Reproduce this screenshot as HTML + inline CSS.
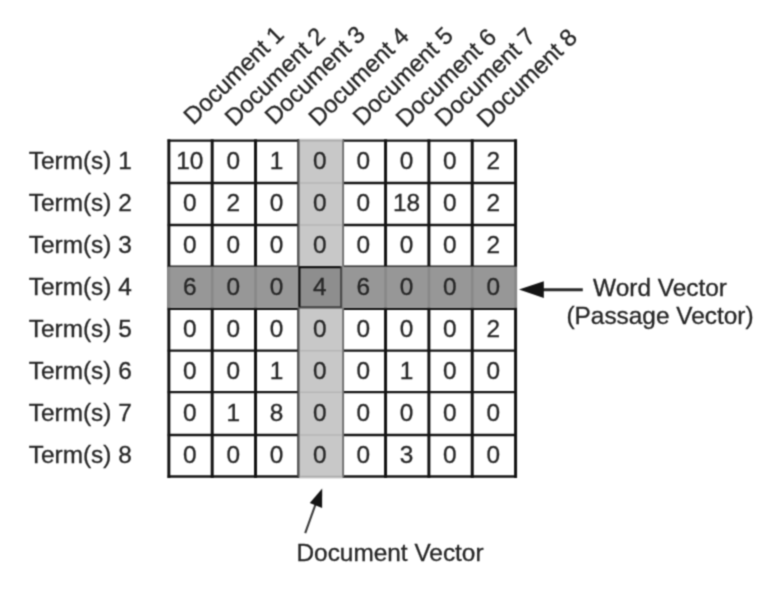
<!DOCTYPE html><html><head><meta charset="utf-8"><style>html,body{margin:0;padding:0;background:#fff}svg{display:block}text{font-family:"Liberation Sans",sans-serif;fill:#262626;stroke:#262626;stroke-width:0.32px}</style></head><body>
<svg width="778" height="590" viewBox="0 0 778 590">
<defs><filter id="b" color-interpolation-filters="sRGB" x="0" y="0" width="100%" height="100%" filterUnits="userSpaceOnUse"><feConvolveMatrix order="3" kernelMatrix="0.0400 0.1200 0.0400 0.1200 0.3600 0.1200 0.0400 0.1200 0.0400" edgeMode="duplicate" preserveAlpha="true"/></filter></defs><g filter="url(#b)">
<rect width="778" height="590" fill="#fff"/>
<line x1="168.85" y1="140.70" x2="515.57" y2="140.70" stroke="#141414" stroke-width="2.3" stroke-linecap="square"/>
<line x1="168.85" y1="183.00" x2="515.57" y2="183.00" stroke="#141414" stroke-width="2.3" stroke-linecap="square"/>
<line x1="168.85" y1="225.00" x2="515.57" y2="225.00" stroke="#141414" stroke-width="2.3" stroke-linecap="square"/>
<line x1="168.85" y1="266.55" x2="515.57" y2="266.55" stroke="#141414" stroke-width="2.3" stroke-linecap="square"/>
<line x1="168.85" y1="308.80" x2="515.57" y2="308.80" stroke="#141414" stroke-width="2.3" stroke-linecap="square"/>
<line x1="168.85" y1="350.70" x2="515.57" y2="350.70" stroke="#141414" stroke-width="2.3" stroke-linecap="square"/>
<line x1="168.85" y1="392.20" x2="515.57" y2="392.20" stroke="#141414" stroke-width="2.3" stroke-linecap="square"/>
<line x1="168.85" y1="435.00" x2="515.57" y2="435.00" stroke="#141414" stroke-width="2.3" stroke-linecap="square"/>
<line x1="168.85" y1="476.50" x2="515.57" y2="476.50" stroke="#141414" stroke-width="2.3" stroke-linecap="square"/>
<line x1="168.85" y1="140.70" x2="168.85" y2="476.50" stroke="#141414" stroke-width="3.0" stroke-linecap="square"/>
<line x1="212.19" y1="140.70" x2="212.19" y2="476.50" stroke="#141414" stroke-width="3.0" stroke-linecap="square"/>
<line x1="255.53" y1="140.70" x2="255.53" y2="476.50" stroke="#141414" stroke-width="3.0" stroke-linecap="square"/>
<line x1="298.87" y1="140.70" x2="298.87" y2="476.50" stroke="#141414" stroke-width="3.0" stroke-linecap="square"/>
<line x1="342.21" y1="140.70" x2="342.21" y2="476.50" stroke="#141414" stroke-width="3.0" stroke-linecap="square"/>
<line x1="385.55" y1="140.70" x2="385.55" y2="476.50" stroke="#141414" stroke-width="3.0" stroke-linecap="square"/>
<line x1="428.89" y1="140.70" x2="428.89" y2="476.50" stroke="#141414" stroke-width="3.0" stroke-linecap="square"/>
<line x1="472.23" y1="140.70" x2="472.23" y2="476.50" stroke="#141414" stroke-width="3.0" stroke-linecap="square"/>
<line x1="515.57" y1="140.70" x2="515.57" y2="476.50" stroke="#141414" stroke-width="3.0" stroke-linecap="square"/>
<rect x="299.17" y="138.80" width="43.64" height="339.60" fill="#c8c8c8"/>
<line x1="300.17" y1="140.70" x2="341.81" y2="140.70" stroke="#acacac" stroke-width="1.6" stroke-linecap="butt"/>
<line x1="300.17" y1="183.00" x2="341.81" y2="183.00" stroke="#b6b6b6" stroke-width="1.6" stroke-linecap="butt"/>
<line x1="300.17" y1="225.00" x2="341.81" y2="225.00" stroke="#b6b6b6" stroke-width="1.6" stroke-linecap="butt"/>
<line x1="300.17" y1="350.70" x2="341.81" y2="350.70" stroke="#b6b6b6" stroke-width="1.6" stroke-linecap="butt"/>
<line x1="300.17" y1="392.20" x2="341.81" y2="392.20" stroke="#b6b6b6" stroke-width="1.6" stroke-linecap="butt"/>
<line x1="300.17" y1="435.00" x2="341.81" y2="435.00" stroke="#b6b6b6" stroke-width="1.6" stroke-linecap="butt"/>
<line x1="300.17" y1="476.50" x2="341.81" y2="476.50" stroke="#acacac" stroke-width="1.6" stroke-linecap="butt"/>
<line x1="298.47" y1="139.70" x2="298.47" y2="477.50" stroke="#585858" stroke-width="1.9" stroke-linecap="butt"/>
<line x1="343.21" y1="139.70" x2="343.21" y2="477.50" stroke="#6c6c6c" stroke-width="1.7" stroke-linecap="butt"/>
<rect x="167.55" y="266.70" width="349.32" height="41.10" fill="#979797"/>
<line x1="168.85" y1="267.20" x2="168.85" y2="307.30" stroke="#888888" stroke-width="2.6" stroke-linecap="butt"/>
<line x1="212.19" y1="267.20" x2="212.19" y2="307.30" stroke="#888888" stroke-width="2.6" stroke-linecap="butt"/>
<line x1="255.53" y1="267.20" x2="255.53" y2="307.30" stroke="#888888" stroke-width="2.6" stroke-linecap="butt"/>
<line x1="385.55" y1="267.20" x2="385.55" y2="307.30" stroke="#888888" stroke-width="2.6" stroke-linecap="butt"/>
<line x1="428.89" y1="267.20" x2="428.89" y2="307.30" stroke="#888888" stroke-width="2.6" stroke-linecap="butt"/>
<line x1="472.23" y1="267.20" x2="472.23" y2="307.30" stroke="#888888" stroke-width="2.6" stroke-linecap="butt"/>
<line x1="515.57" y1="267.20" x2="515.57" y2="307.30" stroke="#888888" stroke-width="2.6" stroke-linecap="butt"/>
<rect x="298.47" y="266.25" width="43.74" height="42.25" fill="#4a4a4a"/>
<rect x="298.47" y="266.25" width="42.14" height="40.55" fill="#0c0c0c"/>
<rect x="300.47" y="268.25" width="39.94" height="38.25" fill="#8e8e8e"/>
<text x="189.8" y="168.6" font-size="24.4" text-anchor="middle">10</text>
<text x="233.2" y="168.6" font-size="24.4" text-anchor="middle">0</text>
<text x="276.5" y="168.6" font-size="24.4" text-anchor="middle">1</text>
<text x="319.8" y="168.6" font-size="24.4" text-anchor="middle">0</text>
<text x="363.2" y="168.6" font-size="24.4" text-anchor="middle">0</text>
<text x="406.5" y="168.6" font-size="24.4" text-anchor="middle">0</text>
<text x="449.9" y="168.6" font-size="24.4" text-anchor="middle">0</text>
<text x="493.2" y="168.6" font-size="24.4" text-anchor="middle">2</text>
<text x="189.8" y="210.6" font-size="24.4" text-anchor="middle">0</text>
<text x="233.2" y="210.6" font-size="24.4" text-anchor="middle">2</text>
<text x="276.5" y="210.6" font-size="24.4" text-anchor="middle">0</text>
<text x="319.8" y="210.6" font-size="24.4" text-anchor="middle">0</text>
<text x="363.2" y="210.6" font-size="24.4" text-anchor="middle">0</text>
<text x="406.5" y="210.6" font-size="24.4" text-anchor="middle">18</text>
<text x="449.9" y="210.6" font-size="24.4" text-anchor="middle">0</text>
<text x="493.2" y="210.6" font-size="24.4" text-anchor="middle">2</text>
<text x="189.8" y="252.6" font-size="24.4" text-anchor="middle">0</text>
<text x="233.2" y="252.6" font-size="24.4" text-anchor="middle">0</text>
<text x="276.5" y="252.6" font-size="24.4" text-anchor="middle">0</text>
<text x="319.8" y="252.6" font-size="24.4" text-anchor="middle">0</text>
<text x="363.2" y="252.6" font-size="24.4" text-anchor="middle">0</text>
<text x="406.5" y="252.6" font-size="24.4" text-anchor="middle">0</text>
<text x="449.9" y="252.6" font-size="24.4" text-anchor="middle">0</text>
<text x="493.2" y="252.6" font-size="24.4" text-anchor="middle">2</text>
<text x="189.8" y="294.6" font-size="24.4" text-anchor="middle">6</text>
<text x="233.2" y="294.6" font-size="24.4" text-anchor="middle">0</text>
<text x="276.5" y="294.6" font-size="24.4" text-anchor="middle">0</text>
<text x="319.8" y="294.6" font-size="24.4" text-anchor="middle">4</text>
<text x="363.2" y="294.6" font-size="24.4" text-anchor="middle">6</text>
<text x="406.5" y="294.6" font-size="24.4" text-anchor="middle">0</text>
<text x="449.9" y="294.6" font-size="24.4" text-anchor="middle">0</text>
<text x="493.2" y="294.6" font-size="24.4" text-anchor="middle">0</text>
<text x="189.8" y="336.6" font-size="24.4" text-anchor="middle">0</text>
<text x="233.2" y="336.6" font-size="24.4" text-anchor="middle">0</text>
<text x="276.5" y="336.6" font-size="24.4" text-anchor="middle">0</text>
<text x="319.8" y="336.6" font-size="24.4" text-anchor="middle">0</text>
<text x="363.2" y="336.6" font-size="24.4" text-anchor="middle">0</text>
<text x="406.5" y="336.6" font-size="24.4" text-anchor="middle">0</text>
<text x="449.9" y="336.6" font-size="24.4" text-anchor="middle">0</text>
<text x="493.2" y="336.6" font-size="24.4" text-anchor="middle">2</text>
<text x="189.8" y="378.6" font-size="24.4" text-anchor="middle">0</text>
<text x="233.2" y="378.6" font-size="24.4" text-anchor="middle">0</text>
<text x="276.5" y="378.6" font-size="24.4" text-anchor="middle">1</text>
<text x="319.8" y="378.6" font-size="24.4" text-anchor="middle">0</text>
<text x="363.2" y="378.6" font-size="24.4" text-anchor="middle">0</text>
<text x="406.5" y="378.6" font-size="24.4" text-anchor="middle">1</text>
<text x="449.9" y="378.6" font-size="24.4" text-anchor="middle">0</text>
<text x="493.2" y="378.6" font-size="24.4" text-anchor="middle">0</text>
<text x="189.8" y="420.6" font-size="24.4" text-anchor="middle">0</text>
<text x="233.2" y="420.6" font-size="24.4" text-anchor="middle">1</text>
<text x="276.5" y="420.6" font-size="24.4" text-anchor="middle">8</text>
<text x="319.8" y="420.6" font-size="24.4" text-anchor="middle">0</text>
<text x="363.2" y="420.6" font-size="24.4" text-anchor="middle">0</text>
<text x="406.5" y="420.6" font-size="24.4" text-anchor="middle">0</text>
<text x="449.9" y="420.6" font-size="24.4" text-anchor="middle">0</text>
<text x="493.2" y="420.6" font-size="24.4" text-anchor="middle">0</text>
<text x="189.8" y="462.6" font-size="24.4" text-anchor="middle">0</text>
<text x="233.2" y="462.6" font-size="24.4" text-anchor="middle">0</text>
<text x="276.5" y="462.6" font-size="24.4" text-anchor="middle">0</text>
<text x="319.8" y="462.6" font-size="24.4" text-anchor="middle">0</text>
<text x="363.2" y="462.6" font-size="24.4" text-anchor="middle">0</text>
<text x="406.5" y="462.6" font-size="24.4" text-anchor="middle">3</text>
<text x="449.9" y="462.6" font-size="24.4" text-anchor="middle">0</text>
<text x="493.2" y="462.6" font-size="24.4" text-anchor="middle">0</text>
<text x="28.8" y="168.6" font-size="24.4">Term(s) 1</text>
<text x="28.8" y="210.6" font-size="24.4">Term(s) 2</text>
<text x="28.8" y="252.6" font-size="24.4">Term(s) 3</text>
<text x="28.8" y="294.6" font-size="24.4">Term(s) 4</text>
<text x="28.8" y="336.6" font-size="24.4">Term(s) 5</text>
<text x="28.8" y="378.6" font-size="24.4">Term(s) 6</text>
<text x="28.8" y="420.6" font-size="24.4">Term(s) 7</text>
<text x="28.8" y="462.6" font-size="24.4">Term(s) 8</text>
<text transform="translate(193.3,125.7) rotate(-44.2)" font-size="24" letter-spacing="-0.1">Document 1</text>
<text transform="translate(234.4,127.2) rotate(-44.2)" font-size="24" letter-spacing="-0.1">Document 2</text>
<text transform="translate(274.5,125.7) rotate(-44.2)" font-size="24" letter-spacing="-0.1">Document 3</text>
<text transform="translate(318.2,127.2) rotate(-44.2)" font-size="24" letter-spacing="-0.1">Document 4</text>
<text transform="translate(362.4,126.8) rotate(-44.2)" font-size="24" letter-spacing="-0.1">Document 5</text>
<text transform="translate(405.6,128.2) rotate(-44.2)" font-size="24" letter-spacing="-0.1">Document 6</text>
<text transform="translate(444.6,127.8) rotate(-44.2)" font-size="24" letter-spacing="-0.1">Document 7</text>
<text transform="translate(486.5,128.6) rotate(-44.2)" font-size="24" letter-spacing="-0.1">Document 8</text>
<text x="660" y="296" font-size="24.4" text-anchor="middle">Word Vector</text>
<text x="660" y="324" font-size="24.4" text-anchor="middle">(Passage Vector)</text>
<line x1="540" y1="289.8" x2="582.8" y2="289.8" stroke="#2a2a2a" stroke-width="2.9"/>
<polygon points="519.0,289.6 543.8,281.3 543.8,297.9" fill="#141414"/>
<text x="390" y="560.8" font-size="24.4" text-anchor="middle">Document Vector</text>
<line x1="305.2" y1="533.2" x2="316" y2="503" stroke="#3c3c3c" stroke-width="2.1"/>
<polygon points="322.2,488.4 322.1,508 309.8,503" fill="#141414"/>
</g></svg></body></html>
